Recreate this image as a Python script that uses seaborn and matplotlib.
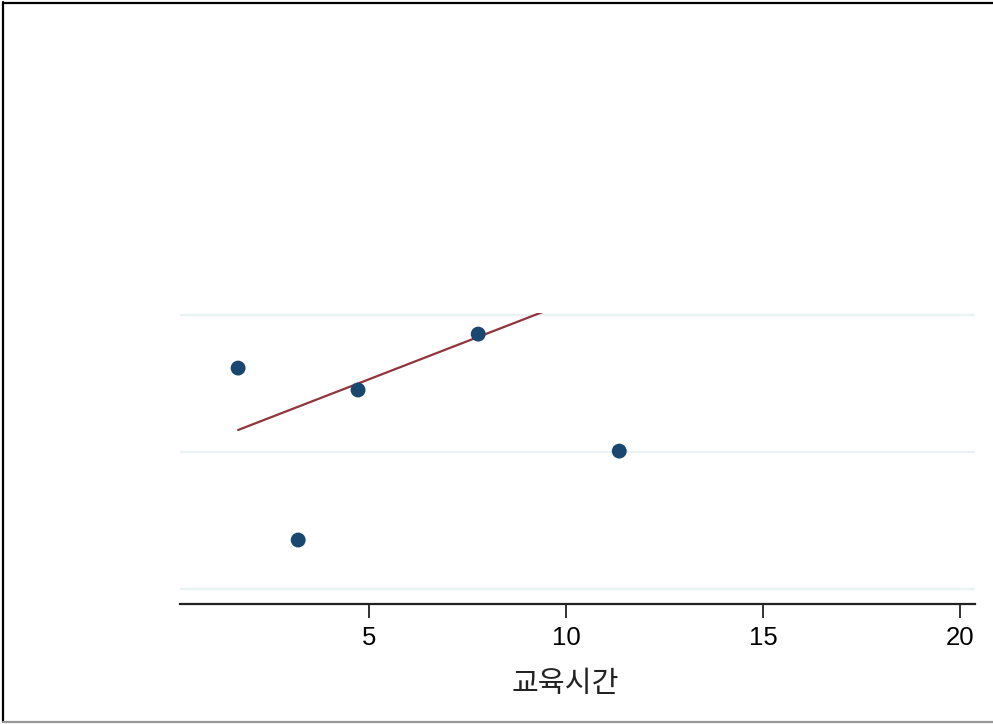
import matplotlib
matplotlib.use("Agg")
import matplotlib.pyplot as plt
import seaborn as sns
import pandas as pd
from matplotlib.lines import Line2D

# Data
hours = [1.675, 3.20, 4.72, 7.77, 11.35]
score = [3.613, 2.358, 3.453, 3.861, 3.007]
fit_x = [1.675, 11.35]
fit_y = [3.161, 4.239]
xticks = [5, 10, 15, 20]
ygrid = [2, 3, 4]
xlabel = "교육시간"

sns.set_theme(style="white")
plt.rcParams['font.family'] = ['Liberation Sans', 'Noto Sans CJK KR', 'DejaVu Sans']

fig = plt.figure(figsize=(9.93, 7.24), dpi=100)
W, H = 993, 724
ax = fig.add_axes([180 / W, (H - 604) / H, 795 / W, 291 / H])

df = pd.DataFrame({"hours": hours, "score": score})
fit = pd.DataFrame({"x": fit_x, "y": fit_y})

sns.lineplot(data=fit, x="x", y="y", ax=ax, color="#90353b", lw=1.6, zorder=3)
sns.scatterplot(data=df, x="hours", y="score", ax=ax, color="#1a476f", s=115,
                edgecolor="none", zorder=4)

ax.set_xlim(0.2, 20.38)
ax.set_ylim(1.891, 4.015)
ax.set_xticks(xticks)
ax.set_xticklabels([str(t) for t in xticks], fontsize=18.5, color="black")
ax.set_yticks(ygrid)
ax.set_yticklabels([])
ax.tick_params(axis="y", length=0)
ax.tick_params(axis="x", direction="out", length=10, width=1.3, color="#222222", pad=6,
               bottom=True)
ax.grid(axis="y", color="#eaf2f3", lw=1.6)
ax.grid(axis="x", visible=False)
for s in ["top", "right", "left"]:
    ax.spines[s].set_visible(False)
ax.spines["bottom"].set_color("#222222")
ax.spines["bottom"].set_linewidth(1.6)
ax.set_ylabel("")
ax.set_xlabel(xlabel, fontsize=21, color="#222222", labelpad=8,
              family=['Noto Sans CJK KR', 'DejaVu Sans'])
ax.xaxis.set_label_coords((565 - 180) / 795, -0.225)

# figure border
fig.add_artist(Line2D([3 / W, 3 / W], [1 - 2 / H, 1 - 722 / H], transform=fig.transFigure,
                      color="black", lw=1.6))
fig.add_artist(Line2D([3 / W, 1], [1 - 3 / H, 1 - 3 / H], transform=fig.transFigure,
                      color="black", lw=1.6))
fig.add_artist(Line2D([3 / W, 1], [1 - 722 / H, 1 - 722 / H], transform=fig.transFigure,
                      color="#999999", lw=1.6))

fig.savefig("out.png", dpi=100)
